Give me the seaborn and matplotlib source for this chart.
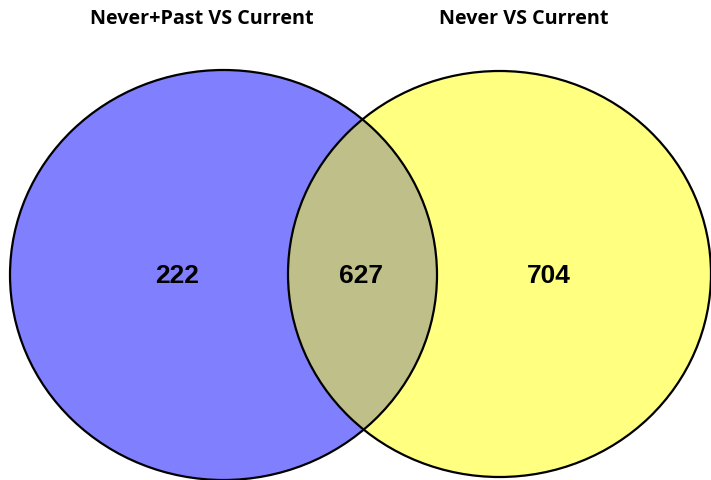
import matplotlib
matplotlib.use("Agg")
import matplotlib.pyplot as plt
import seaborn as sns
from matplotlib.patches import Ellipse

set_names = ["Never+Past VS Current", "Never VS Current"]
region_labels = ["only_left", "both", "only_right"]
region_counts = [222, 627, 704]

sns.set_theme(style="white")
plt.rcParams['font.family'] = ['DejaVu Sans']

fig = plt.figure(figsize=(7.11, 4.80), dpi=100)
ax = fig.add_axes([0, 0, 1, 1])
ax.set_xlim(0, 711)
ax.set_ylim(480, 0)
ax.axis("off")

blue = "#8080FF"
yellow = "#FFFF80"
overlap = "#BFBF89"

left = Ellipse((223.5, 275), 427, 410, facecolor=blue, edgecolor="none", zorder=1)
right = Ellipse((499.5, 274), 423, 406, facecolor=yellow, edgecolor="none", zorder=1)
ax.add_patch(left)
ax.add_patch(right)
lens = Ellipse((499.5, 274), 423, 406, facecolor=overlap, edgecolor="none", zorder=2)
ax.add_patch(lens)
lens.set_clip_path(left)
for c, s in [((223.5, 275), (427, 410)), ((499.5, 274), (423, 406))]:
    ax.add_patch(Ellipse(c, s[0], s[1], facecolor="none", edgecolor="black", lw=1.6, zorder=3))

title_x = [202, 524]
for name, x in zip(set_names, title_x):
    ax.text(x, 18.5, name, ha="center", va="center", fontsize=14.2, fontweight="bold",
            family=["Open Sans", "DejaVu Sans"], color="black")

count_x = [177, 361, 549]
for v, x in zip(region_counts, count_x):
    ax.text(x, 276, str(v), ha="center", va="center", fontsize=19, fontweight="bold",
            family=["Liberation Sans", "DejaVu Sans"], color="black", zorder=4)

fig.savefig("out.png", dpi=100)
